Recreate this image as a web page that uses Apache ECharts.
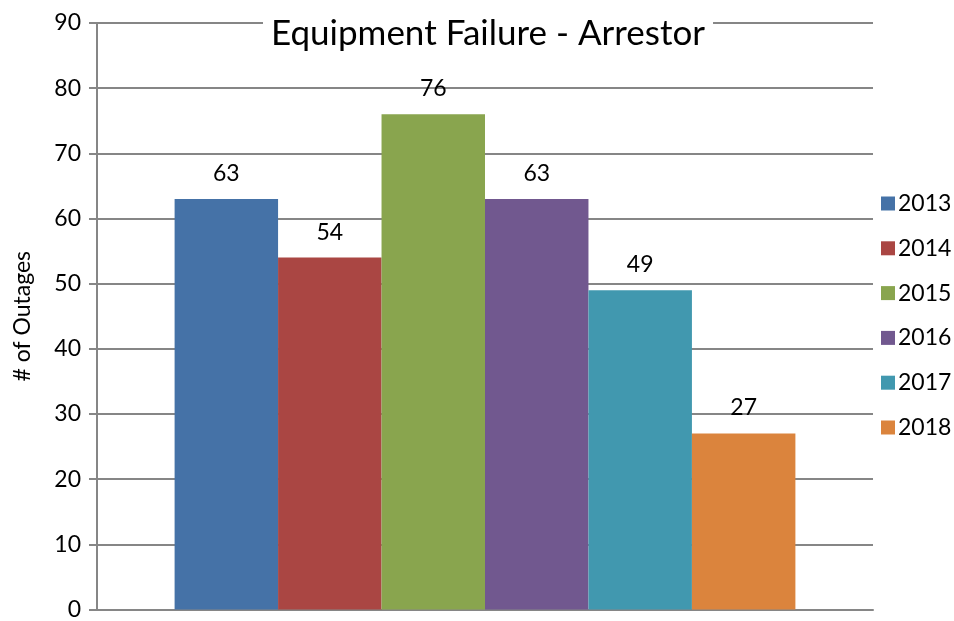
<!DOCTYPE html>
<html><head><meta charset="utf-8">
<script src="https://cdn.jsdelivr.net/npm/echarts@6/dist/echarts.min.js"></script>
<style>html,body{margin:0;padding:0;background:#fff}#c{width:954px;height:621px}</style>
</head><body><div id="c"></div>
<script>
const categories = ['Arrestor'];
const seriesNames = ['2013','2014','2015','2016','2017','2018'];
const values = [63, 54, 76, 63, 49, 27];
const colors = ['#4572A7','#AA4643','#89A54E','#71588F','#4198AF','#DB843D'];
const titleText = 'Equipment Failure - Arrestor';
const yAxisName = '# of Outages';

const font = 'Lato, "Open Sans", sans-serif';
const chart = echarts.init(document.getElementById('c'));
chart.setOption({
  animation: false,
  title: {
    text: titleText, left: 263, top: 14,
    backgroundColor: '#fff', padding: [2, 8],
    textStyle: { fontFamily: font, fontSize: 35, fontWeight: 'normal', color: '#000' }
  },
  legend: {
    orient: 'vertical', left: 876, top: 187,
    itemWidth: 14, itemHeight: 14, itemGap: 21.8,
    icon: 'rect',
    textStyle: { fontFamily: font, fontSize: 23, color: '#000', padding: [0,0,0,-2] },
    data: seriesNames
  },
  grid: { left: 97, right: 81, top: 23, bottom: 6, containLabel: false },
  xAxis: {
    type: 'category', data: categories,
    axisLine: { lineStyle: { color: '#868686', width: 2 } },
    axisTick: { show: false }, axisLabel: { show: false }
  },
  yAxis: {
    type: 'value', min: 0, max: 90, interval: 10,
    name: yAxisName, nameLocation: 'middle', nameGap: 63, nameRotate: 90,
    nameTextStyle: { fontFamily: font, fontSize: 23, color: '#000' },
    axisLine: { show: true, lineStyle: { color: '#868686', width: 2 } },
    axisTick: { show: true, length: 8, lineStyle: { color: '#868686', width: 2 } },
    axisLabel: { fontFamily: font, fontSize: 23, color: '#000', margin: 16 },
    splitLine: { lineStyle: { color: '#868686', width: 2 } }
  },
  series: seriesNames.map((n, i) => ({
    name: n, type: 'bar', barGap: 0, barCategoryGap: '20%',
    data: [values[i]],
    itemStyle: { color: colors[i] },
    label: { show: true, position: 'top', distance: 14, fontFamily: font, fontSize: 23, color: '#000' }
  }))
});
</script></body></html>
